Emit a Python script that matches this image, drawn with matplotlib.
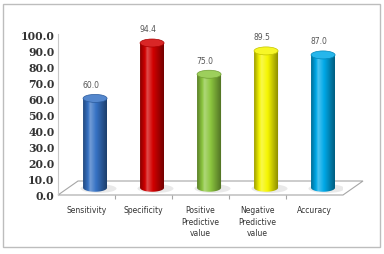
import numpy as np
import matplotlib
matplotlib.use("Agg")
import matplotlib.pyplot as plt
from matplotlib.patches import Polygon, Ellipse, Rectangle
from matplotlib.colors import to_rgb

categories = ["Sensitivity", "Specificity", "Positive\nPredictive\nvalue",
              "Negative\nPredictive\nvalue", "Accuracy"]
values = [60.0, 94.4, 75.0, 89.5, 87.0]
value_labels = ["60.0", "94.4", "75.0", "89.5", "87.0"]
colors = ["#3672C4", "#D20000", "#8CC63F", "#F5F500", "#00A9E8"]
yticks = [0, 10, 20, 30, 40, 50, 60, 70, 80, 90, 100]

W, H = 384, 255
fig = plt.figure(figsize=(W / 100, H / 100), dpi=100)
fig.patch.set_facecolor("white")

# outer frame
fig.add_artist(Rectangle((3 / W, 1 - 248 / H), 377 / W, 243 / H, transform=fig.transFigure,
                         fill=False, edgecolor="#BDBDBD", lw=1.0))

ax_l, ax_r = 58, 343
y0_px, y100_px = 196, 35
ax = fig.add_axes([ax_l / W, 1 - y0_px / H, (ax_r - ax_l) / W, (y0_px - y100_px) / H])
ax.set_xlim(0, 5)
ax.set_ylim(0, 100)
ax.set_facecolor("none")
px_x = 5 / (ax_r - ax_l)
px_y = 100 / (y0_px - y100_px)

# floor
dx, dy = 20 * px_x, 14 * px_y
floor = Polygon([(0, 0), (5, 0), (5 + dx, dy), (dx, dy)], closed=True,
                facecolor="white", edgecolor="#A6A6A6", lw=0.8, clip_on=False, zorder=1)
ax.add_patch(floor)

for s in ["top", "right", "bottom"]:
    ax.spines[s].set_visible(False)
ax.spines["left"].set_color("#C8C8C8")
ax.spines["left"].set_linewidth(0.8)
ax.set_yticks(yticks)
ax.set_yticklabels([f"{v:.1f}" for v in yticks], fontsize=7.8, fontweight="bold",
                   family="DejaVu Serif", color="#333333")
ax.tick_params(axis="y", length=0, pad=2.5)
ax.set_xticks([1, 2, 3, 4])
ax.set_xticklabels([])
ax.tick_params(axis="x", length=3, color="#A6A6A6", width=0.8)

bw = 24 * px_x
eh = 8 * px_y
base = 4.5


def shade(c):
    rgb = np.array(to_rgb(c))
    t = np.linspace(0, 1, 64)
    prof = np.interp(t, [0, 0.3, 0.55, 1.0], [0.65, 1.15, 1.0, 0.55])
    cols = []
    for p in prof:
        if p >= 1:
            cols.append(rgb + (1 - rgb) * (p - 1) * 2.0)
        else:
            cols.append(rgb * p)
    arr = np.clip(np.array(cols), 0, 1)
    return arr[np.newaxis, :, :]


for i, (v, c, lab) in enumerate(zip(values, colors, value_labels)):
    xc = i + 0.65
    xl, xr = xc - bw / 2, xc + bw / 2
    ax.add_patch(Ellipse((xc + 0.06, base - 0.5), bw * 1.5, eh * 1.1,
                         facecolor="#D5D5D5", edgecolor="none", alpha=0.5, zorder=2))
    th = np.linspace(np.pi, 2 * np.pi, 40)
    pts = [(xl, v), (xl, base)] + [(xc + bw / 2 * np.cos(t), base + eh / 2 * np.sin(t)) for t in th] + [(xr, v)]
    body = Polygon(pts, closed=True, facecolor="none", edgecolor="none", zorder=3)
    ax.add_patch(body)
    im = ax.imshow(shade(c), extent=[xl, xr, base - eh / 2, v], aspect="auto",
                   zorder=3, interpolation="bilinear")
    im.set_clip_path(body)
    rgb = np.array(to_rgb(c))
    top_col = np.clip(rgb + (1 - rgb) * 0.15, 0, 1)
    ax.add_patch(Ellipse((xc, v), bw, eh, facecolor=top_col,
                         edgecolor=tuple(rgb * 0.8), lw=0.5, zorder=4))
    ax.text(xc - 0.07, v + 6, lab, ha="center", va="bottom", fontsize=5.5,
            color="#555555", zorder=5)

ax.set_xlim(0, 5)
ax.set_ylim(0, 100)

for i, cat in enumerate(categories):
    ax.text(i + 0.5, -6.5, cat, ha="center", va="top", fontsize=5.5,
            color="#333333", linespacing=1.35, clip_on=False)

fig.savefig("out.png", dpi=100, facecolor="white")
